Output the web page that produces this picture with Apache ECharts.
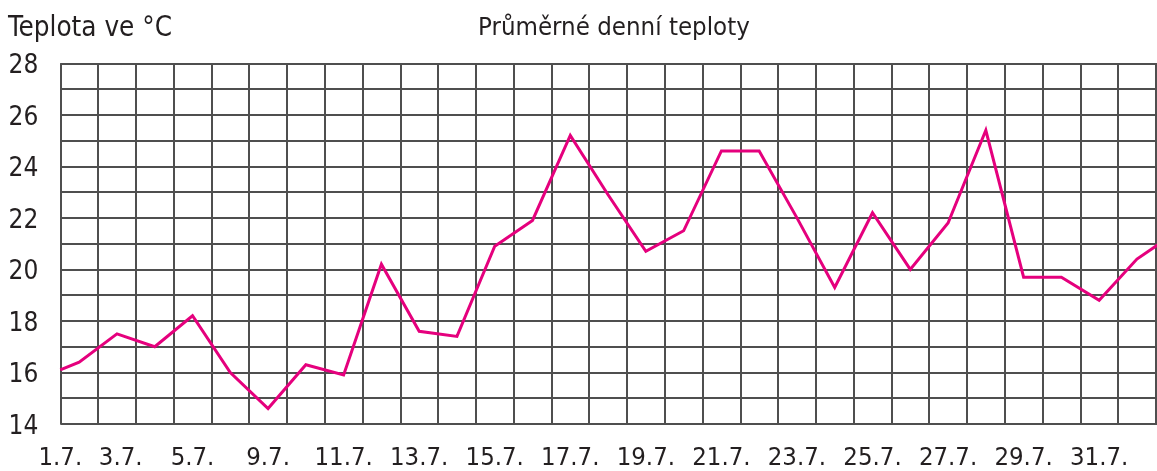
<!DOCTYPE html>
<html lang="cs">
<head>
<meta charset="utf-8">
<title>Průměrné denní teploty</title>
<script src="https://cdn.jsdelivr.net/npm/echarts@6/dist/echarts.min.js"></script>
<style>
  html, body { margin: 0; padding: 0; background: #fff; }
  #chart { width: 1157px; height: 471px; }
</style>
</head>
<body>
<div id="chart"></div>
<script>
// Daily mean temperatures for July (1.–31. 7.), in °C
const days = [1, 2, 3, 4, 5, 6, 7, 8, 9, 10, 11, 12, 13, 14, 15, 16,
              17, 18, 19, 20, 21, 22, 23, 24, 25, 26, 27, 28, 29, 30, 31];
const temps = [16.1, 16.4, 17.5, 17.0, 18.2, 16.0, 14.6, 16.3, 15.9, 20.2,
               17.6, 17.4, 20.9, 21.9, 25.2, 22.9, 20.7, 21.5, 24.6, 24.6,
               22.0, 19.3, 22.2, 20.0, 21.8, 25.4, 19.7, 19.7, 18.8, 20.4, 21.4];

// Date labels under the grid and the grid column at which each one sits
const xTickLabels = ['1.7.', '3.7.', '5.7.', '9.7.', '11.7.', '13.7.', '15.7.', '17.7.',
                     '19.7.', '21.7.', '23.7.', '25.7.', '27.7.', '29.7.', '31.7.'];
const xTickAt = [0, 1.6, 3.5, 5.5, 7.5, 9.5, 11.5, 13.5, 15.5, 17.5, 19.5, 21.5, 23.5, 25.5, 27.5];

// Temperature axis
const yMin = 14, yMax = 28, yStep = 1;

// One grid column per day: day 1 on the left edge, the following days in column centres
const dayColumn = d => (d === 1 ? 0 : d - 1.5);
const points = days.map((d, i) => [dayColumn(d), temps[i]]);

const FONT = "'Liberation Sans Narrow', 'DejaVu Sans Condensed', 'Arial Narrow', sans-serif";
const TEXT = '#231f20';
const GRID = '#4f4f4f';

const chart = echarts.init(document.getElementById('chart'), null, { renderer: 'canvas' });
chart.setOption({
  animation: false,
  backgroundColor: '#ffffff',
  title: [
    {
      text: 'Průměrné denní teploty',
      left: 478, top: 15, padding: 0,
      textStyle: { fontFamily: FONT, fontSize: 25.6, fontWeight: 'normal', color: TEXT }
    },
    {
      text: 'Teplota ve °C',
      left: 8, top: 15, padding: 0,
      textStyle: { fontFamily: FONT, fontSize: 27.6, fontWeight: 'normal', color: TEXT }
    }
  ],
  grid: { left: 60.3, right: -12, top: 63.3, bottom: 44.3, containLabel: false },
  xAxis: {
    type: 'value',
    min: 0,
    max: (1157 + 12 - 60.3) / 38.19,
    interval: 1,
    axisLine: { show: false },
    axisTick: { show: false },
    splitLine: { show: true, lineStyle: { color: GRID, width: 2 } },
    axisLabel: {
      show: true,
      customValues: xTickAt,
      formatter: v => {
        const i = xTickAt.findIndex(p => Math.abs(p - v) < 1e-6);
        return i >= 0 ? xTickLabels[i] : '';
      },
      margin: 21,
      fontFamily: FONT, fontSize: 25.5, color: TEXT,
      showMinLabel: true, showMaxLabel: true
    }
  },
  yAxis: {
    type: 'value',
    min: yMin, max: yMax, interval: yStep,
    axisLine: { show: false },
    axisTick: { show: false },
    splitLine: { show: true, lineStyle: { color: GRID, width: 2 } },
    axisLabel: {
      margin: 22,
      verticalAlign: 'top',
      lineHeight: 6,
      formatter: v => (v % 2 === 0 ? String(v) : ''),
      fontFamily: FONT, fontSize: 26, color: TEXT
    }
  },
  series: [{
    type: 'line',
    data: points,
    clip: true,
    symbol: 'none',
    lineStyle: { color: '#e5007d', width: 3, join: 'miter' },
    z: 5
  }]
});
</script>
</body>
</html>
